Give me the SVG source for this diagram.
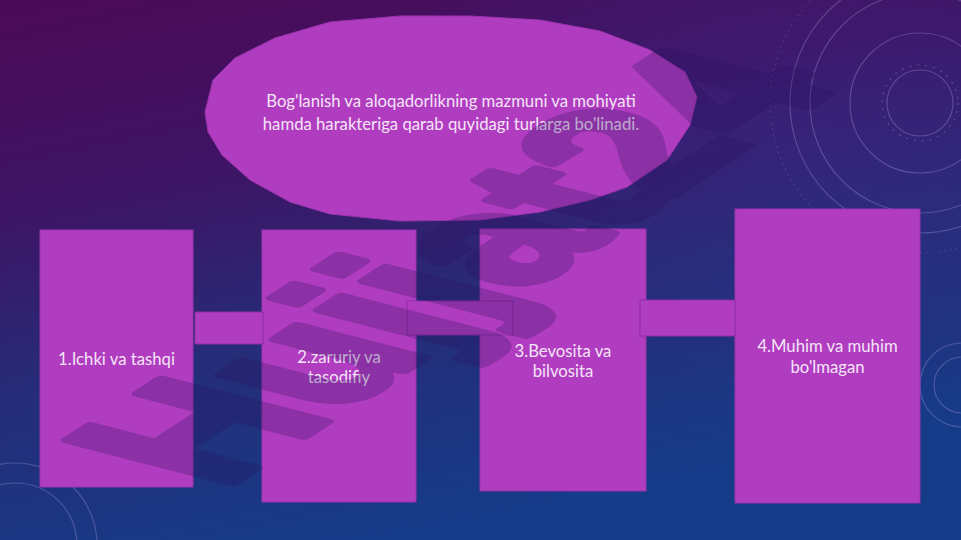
<svg xmlns="http://www.w3.org/2000/svg" width="961" height="540" viewBox="0 0 961 540">
  <defs>
    <linearGradient id="bg" x1="0" y1="0" x2="0.35" y2="1">
      <stop offset="0" stop-color="#4c0a56"/>
      <stop offset="0.35" stop-color="#3e1465"/>
      <stop offset="0.65" stop-color="#262c78"/>
      <stop offset="1" stop-color="#163b88"/>
    </linearGradient>
    <radialGradient id="glow" cx="0.85" cy="0.25" r="0.5">
      <stop offset="0" stop-color="#3a2a8a" stop-opacity="0.4"/>
      <stop offset="1" stop-color="#3a2a8a" stop-opacity="0"/>
    </radialGradient>
  </defs>
  <style>
    .shape { fill: #b03dc0; stroke: #9a34ad; stroke-width: 1; }
    .link { fill: #b03dc0; stroke: #8e2fa3; stroke-width: 1; }
    .label { font-family: Lato, "Liberation Sans", sans-serif; font-size: 16.7px; fill: #f4e4f7; text-anchor: middle; }
    .deco { fill: none; stroke: #b9a6e6; stroke-opacity: 0.3; stroke-width: 1.2; }
    .wm { font-family: "Liberation Sans", Arial, sans-serif; font-weight: bold; font-size: 200px; fill: #2a1060; stroke: #2a1060; stroke-width: 10; stroke-linejoin: round; }
  </style>

  <rect width="961" height="540" fill="url(#bg)"/>
  <rect width="961" height="540" fill="url(#glow)"/>

  <g id="decoration">
    <circle class="deco" cx="920" cy="103" r="33"/>
    <circle class="deco" cx="920" cy="103" r="38" stroke-dasharray="2 6"/>
    <circle class="deco" cx="920" cy="103" r="70" stroke-opacity="0.15"/>
    <circle class="deco" cx="920" cy="103" r="110"/>
    <circle class="deco" cx="920" cy="103" r="130"/>
    <circle class="deco" cx="920" cy="103" r="150" stroke-dasharray="1 5" stroke-width="3" stroke-opacity="0.15"/>
    <circle class="deco" cx="15" cy="545" r="62"/>
    <circle class="deco" cx="15" cy="545" r="82"/>
    <circle class="deco" cx="962" cy="385" r="28"/>
    <circle class="deco" cx="962" cy="385" r="42"/>
  </g>

  <g id="topic">
    <polygon class="shape" points="205,112 213,80 235,58 275,38 330,22 400,16 470,16 540,20 600,31 650,50 685,72 697,97 690,125 667,160 627,187 590,200 540,212 480,220 400,221 330,214 290,202 250,180 222,155 208,132"/>
    <text class="label" x="451" y="107">Bog'lanish va aloqadorlikning mazmuni va mohiyati</text>
    <text class="label" x="451" y="130">hamda harakteriga qarab quyidagi turlarga bo'linadi.</text>
  </g>

  <g id="node1">
    <rect class="shape" x="40" y="230" width="153" height="257"/>
    <text class="label" x="116.5" y="365">1.Ichki va tashqi</text>
  </g>
  <g id="node2">
    <rect class="shape" x="262" y="230" width="154" height="272"/>
    <text class="label" x="339" y="363">2.zaruriy va</text>
    <text class="label" x="339" y="383">tasodifiy</text>
  </g>
  <g id="node3">
    <rect class="shape" x="480" y="229" width="166" height="262"/>
    <text class="label" x="563" y="357">3.Bevosita va</text>
    <text class="label" x="563" y="377">bilvosita</text>
  </g>
  <g id="node4">
    <rect class="shape" x="735" y="209" width="185" height="294"/>
    <text class="label" x="827.5" y="352">4.Muhim va muhim</text>
    <text class="label" x="827.5" y="373">bo'lmagan</text>
  </g>

  <g id="connectors">
    <rect class="link" x="195" y="312" width="68" height="32"/>
    <rect class="link" x="407" y="301" width="106" height="34"/>
    <rect class="link" x="640" y="300" width="95" height="36"/>
  </g>

  <g id="watermark" opacity="0.27">
    <text class="wm" transform="matrix(0.80,-0.523,1.2,0.31,222,490)">Hujjat24</text>
  </g>
</svg>
